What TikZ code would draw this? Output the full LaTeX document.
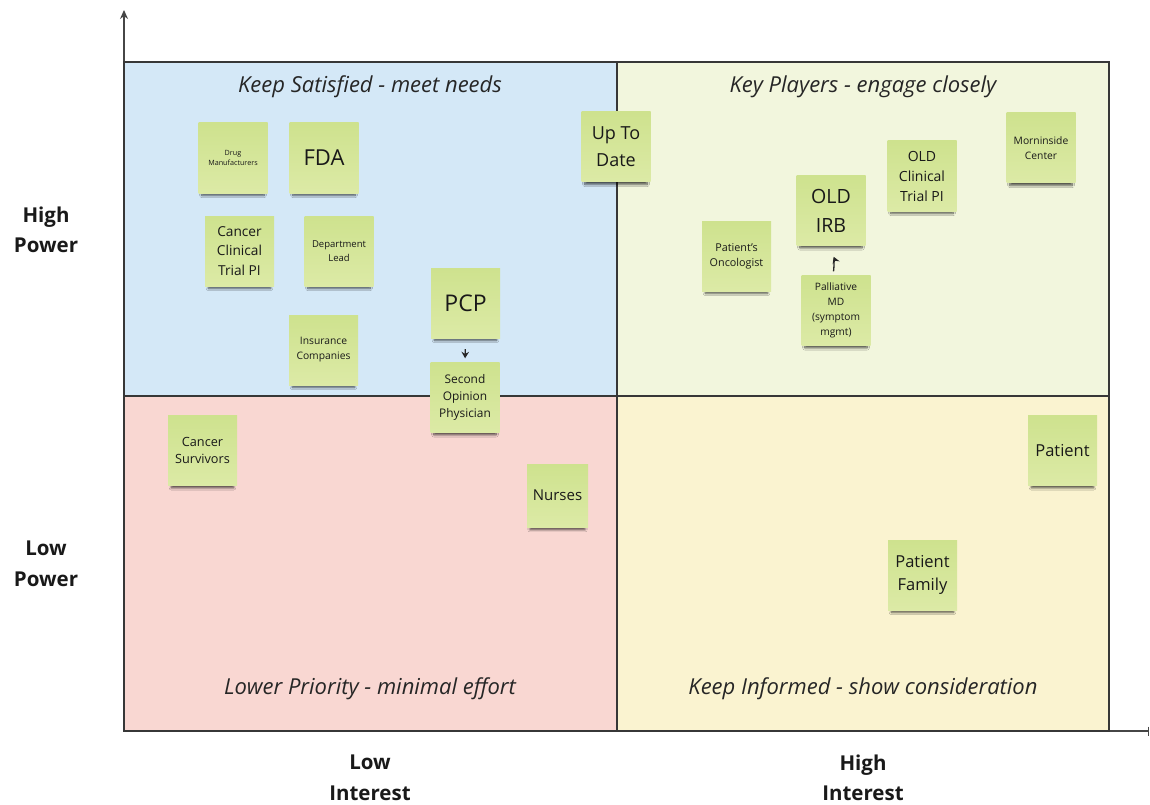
\documentclass[tikz,border=0pt]{standalone}
\usepackage{fontspec}
\setmainfont{Open Sans}
\usetikzlibrary{arrows.meta,shadows.blur}

\definecolor{qblue}{RGB}{212,232,247}
\definecolor{qgreen}{RGB}{242,246,221}
\definecolor{qred}{RGB}{249,215,210}
\definecolor{qyellow}{RGB}{250,243,208}
\definecolor{gridline}{RGB}{55,55,55}
\definecolor{axisline}{RGB}{70,70,70}
\definecolor{notetop}{RGB}{206,226,142}
\definecolor{notebot}{RGB}{220,234,166}
\definecolor{notetext}{RGB}{25,25,25}

\newcommand\fs[2]{\fontsize{#1}{#2}\selectfont}

\tikzset{
  quad/.style={draw=gridline, line width=1.6pt},
  sticky/.style={
    top color=notetop, bottom color=notebot, draw=none,
    minimum width=69pt, minimum height=70pt, inner sep=1pt,
    align=center, text=notetext,
    blur shadow={shadow xshift=0pt, shadow yshift=-6.5pt, shadow scale=0.9,
      shadow blur radius=2.5pt, shadow blur steps=8, shadow opacity=70}},
  qtitle/.style={font=\itshape\fs{22}{26}, text=black!85},
  axlabel/.style={font=\bfseries\fs{20.5}{30.5}, align=center, text=black!90},
  link/.style={draw=black!85, line width=1.3pt, -{Stealth[length=6.5pt,width=7.5pt]}},
}

\begin{document}
\begin{tikzpicture}[x=1pt, y=-1pt]
\useasboundingbox (0,0) rectangle (1150,805);
\fill[white] (0,0) rectangle (1150,805);

% quadrant backgrounds
\fill[qblue]   (124,62)  rectangle (617,396);
\fill[qgreen]  (617,62)  rectangle (1109,396);
\fill[qred]    (124,396) rectangle (617,731);
\fill[qyellow] (617,396) rectangle (1109,731);

% axes
\coordinate (origin) at (124,731);
\coordinate (ytop) at (124,10);
\coordinate (xend) at (1149,731);
\draw[axisline, line width=1.3pt, -{Stealth[length=9pt,width=8pt]}] (origin) -- (ytop);
\draw[axisline, line width=1.3pt, -{Bar[width=9pt]}] (origin) -- (xend);

% quadrant frame
\draw[quad] (124,62) rectangle (1109,731);
\draw[quad] (617,62) -- (617,731);
\draw[quad] (124,396) -- (1109,396);

% quadrant titles
\node[qtitle] (tks) at (370,87) {Keep Satisfied - meet needs};
\node[qtitle] (tkp) at (863,87) {Key Players - engage closely};
\node[qtitle] (tlp) at (370,689) {Lower Priority - minimal effort};
\node[qtitle] (tki) at (863,689) {Keep Informed - show consideration};

% axis labels
\node[axlabel] (hp) at (46,230) {High\\Power};
\node[axlabel] (lp) at (46,564) {Low\\Power};
\node[axlabel] (li) at (370,778) {Low\\Interest};
\node[axlabel] (hi) at (863,778) {High\\Interest};

% sticky notes: keep satisfied
\node[sticky, font=\fs{7.2}{10.5}] (drug) at (233,158) {Drug\\Manufacturers};
\node[sticky, font=\fs{22}{26}] (fda) at (324,158) {FDA};
\node[sticky, font=\fs{13.7}{19.5}] (ccpi) at (239.5,251) {Cancer\\Clinical\\Trial PI};
\node[sticky, font=\fs{9.5}{14}] (dept) at (339,251) {Department\\Lead};
\node[sticky, font=\fs{23}{27}] (pcp) at (465.5,303) {PCP};
\node[sticky, font=\fs{10.3}{15}] (ins) at (323.5,350) {Insurance\\Companies};
\node[sticky, font=\fs{11.9}{16.7}] (sop) at (465,397.5) {Second\\Opinion\\Physician};
\node[sticky, font=\fs{18}{27}] (utd) at (616,147) {Up To\\Date};

% sticky notes: key players
\node[sticky, font=\fs{10.8}{15}] (onc) at (736.5,256) {Patient's\\Oncologist};
\node[sticky, font=\fs{19.6}{29}] (irb) at (831,210.5) {OLD\\IRB};
\node[sticky, font=\fs{10.2}{15}] (pal) at (836,310.5) {Palliative\\MD\\(symptom\\mgmt)};
\node[sticky, font=\fs{14}{20}] (ocpi) at (922,176) {OLD\\Clinical\\Trial PI};
\node[sticky, font=\fs{10.3}{15}] (morn) at (1041,148) {Morninside\\Center};

% sticky notes: lower priority
\node[sticky, font=\fs{12.7}{17}] (surv) at (202.5,450.5) {Cancer\\Survivors};
\node[sticky, font=\fs{15}{19}, minimum width=61pt, minimum height=63pt] (nurse) at (557.5,495.5) {Nurses};

% sticky notes: keep informed
\node[sticky, font=\fs{16.5}{21}] (pat) at (1062.5,450.5) {Patient};
\node[sticky, font=\fs{16.5}{23}] (fam) at (922.5,575) {Patient\\Family};

% connectors
\draw[link, shorten <=11pt, shorten >=4pt] (pcp.south) -- (sop.north);
\draw[link, shorten <=4pt, shorten >=12pt] ([xshift=-3pt]pal.north) to[bend right=15] ([xshift=-2pt]irb.south);
\end{tikzpicture}
\end{document}
